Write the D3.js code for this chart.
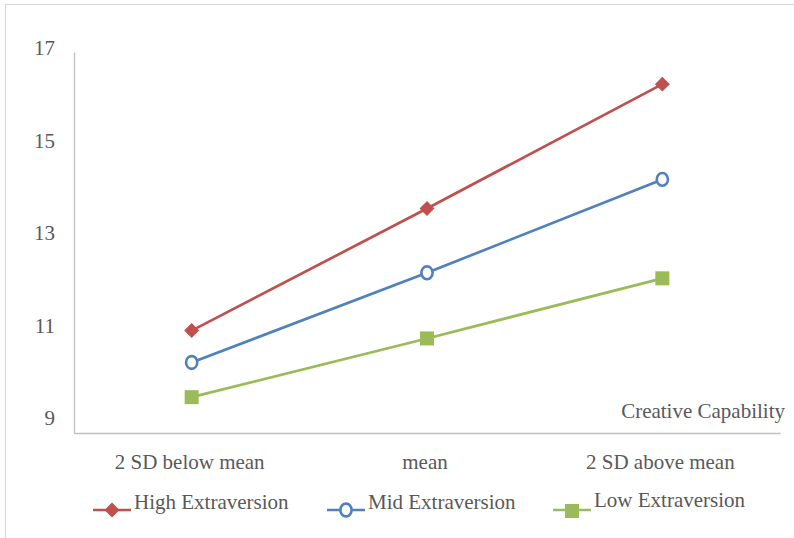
<!DOCTYPE html>
<html>
<head>
<meta charset="utf-8">
<script src="https://cdn.jsdelivr.net/npm/d3@7"></script>
<style>
  html, body { margin: 0; padding: 0; background: #fff; }
  svg { display: block; }
  text { font-family: "Liberation Serif", "Times New Roman", serif; fill: #595959; }
</style>
</head>
<body>
<svg id="chart" width="794" height="538"></svg>
<script>
// ---- data ----
const categories = ["2 SD below mean", "mean", "2 SD above mean"];
const seriesNames = ["High Extraversion", "Mid Extraversion", "Low Extraversion"];
const highValues = [10.89, 13.53, 16.22];
const midValues  = [10.20, 12.14, 14.16];
const lowValues  = [9.45, 10.72, 12.02];
const yTicks = [9, 11, 13, 15, 17];
const yDomain = [8.675, 16.915];
const xAxisTitle = "Creative Capability";

// ---- layout ----
const W = 794, H = 538;
const plot = { left: 74, right: 780, top: 52, bottom: 433 };
const colors = ["#C0504D", "#4F81BD", "#9BBB59"];
const markers = ["diamond", "circle", "square"];
const legendX = [93, 327, 553];
const legendY = 510;

const svg = d3.select("#chart");

// outer frame
svg.append("rect")
  .attr("x", 5.5).attr("y", 4.5)
  .attr("width", 900).attr("height", 700)
  .attr("fill", "none").attr("stroke", "#D9D9D9").attr("stroke-width", 1.2);

const x = d3.scaleBand().domain(categories).range([plot.left, plot.right]);
const y = d3.scaleLinear().domain(yDomain).range([plot.bottom, plot.top]);

// y axis
const yAxis = svg.append("g")
  .attr("transform", `translate(${plot.left},0)`)
  .call(d3.axisLeft(y).tickValues(yTicks).tickSize(0).tickSizeOuter(0).tickPadding(19).tickFormat(d3.format("d")));
yAxis.select(".domain").attr("stroke", "#BFBFBF").attr("stroke-width", 1.3);
yAxis.selectAll("text").attr("font-size", 21).attr("fill", "#595959")
  .style("font-family", '"Liberation Serif", serif');

// x axis
const xAxis = svg.append("g")
  .attr("transform", `translate(0,${plot.bottom})`)
  .call(d3.axisBottom(x).tickSize(0).tickSizeOuter(0).tickPadding(21));
xAxis.select(".domain").attr("stroke", "#BFBFBF").attr("stroke-width", 1.3);
xAxis.selectAll("text").attr("font-size", 21).attr("fill", "#595959")
  .attr("dx", -2)
  .style("font-family", '"Liberation Serif", serif');

// x axis title
svg.append("text")
  .attr("x", 785).attr("y", 418)
  .attr("text-anchor", "end")
  .attr("font-size", 21)
  .text(xAxisTitle);

const allSeries = [highValues, midValues, lowValues].map((vals, i) => ({
  name: seriesNames[i],
  color: colors[i],
  marker: markers[i],
  points: categories.map((c, j) => ({ c, v: vals[j] }))
}));

const line = d3.line()
  .x(d => x(d.c) + x.bandwidth() / 2)
  .y(d => y(d.v));

function drawMarker(g, type, color, cx, cy) {
  if (type === "diamond") {
    g.append("path")
      .attr("d", d3.symbol().type(d3.symbolSquare).size(92)())
      .attr("transform", `translate(${cx},${cy}) rotate(45)`)
      .attr("fill", color).attr("stroke", color).attr("stroke-width", 1);
  } else if (type === "circle") {
    g.append("ellipse")
      .attr("cx", cx).attr("cy", cy).attr("rx", 5.6).attr("ry", 6.4)
      .attr("fill", "#fff").attr("stroke", color).attr("stroke-width", 2.6);
  } else {
    g.append("rect")
      .attr("x", cx - 7).attr("y", cy - 7).attr("width", 14).attr("height", 14)
      .attr("fill", color);
  }
}

allSeries.forEach(s => {
  svg.append("path")
    .datum(s.points)
    .attr("d", line)
    .attr("fill", "none")
    .attr("stroke", s.color)
    .attr("stroke-width", 2.7);
  const g = svg.append("g");
  s.points.forEach(p => drawMarker(g, s.marker, s.color, x(p.c) + x.bandwidth() / 2, y(p.v)));
});

// legend
allSeries.forEach((s, i) => {
  const g = svg.append("g");
  const lx = legendX[i];
  g.append("line")
    .attr("x1", lx).attr("x2", lx + 38)
    .attr("y1", legendY).attr("y2", legendY)
    .attr("stroke", s.color).attr("stroke-width", 2.7);
  drawMarker(g, s.marker, s.color, lx + 19, legendY + (s.marker === "square" ? 1 : 0));
  g.append("text")
    .attr("x", lx + 41).attr("y", legendY - 1 - (i === 2 ? 2 : 0))
    .attr("font-size", 21)
    .text(s.name);
});
</script>
</body>
</html>
